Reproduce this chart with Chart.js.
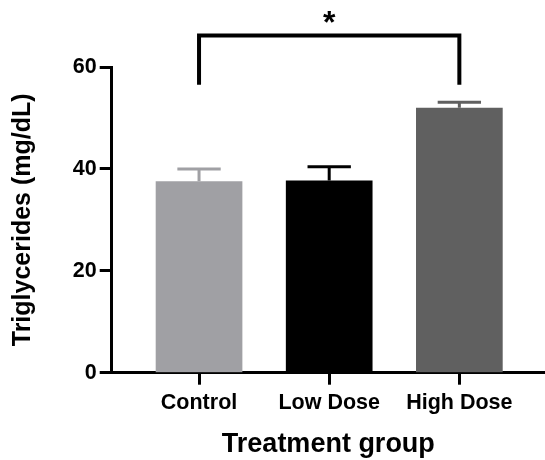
<!DOCTYPE html>
<html>
<head>
<meta charset="utf-8">
<title>Triglycerides by treatment group</title>
<script src="https://cdn.jsdelivr.net/npm/chart.js@4/dist/chart.umd.min.js"></script>
<style>
  html, body { margin: 0; padding: 0; background: #ffffff; }
  #wrap { width: 545px; height: 460px; }
</style>
</head>
<body>
<div id="wrap"><canvas id="chart" width="545" height="460"></canvas></div>
<script>
// Group names, mean values and SEM (mg/dL)
const categories = ['Control', 'Low Dose', 'High Dose'];
const means = [37.6, 37.7, 52.0];
const sem = [2.4, 2.7, 1.1];
const barColors = ['#A0A0A4', '#000000', '#606060'];
const yTicks = [0, 20, 40, 60];

// Significance bracket between two groups
const sigFrom = 'Control';
const sigTo = 'High Dose';
const sigTop = 66.2;
const sigDrop = 56.5;
const sigLabel = '*';

const FONT = '"Liberation Sans", Arial, Helvetica, sans-serif';

const positions = categories.map((_, i) => i + 1);
const points = positions.map((x, i) => ({ x: x, y: means[i] }));

// Upward-only SEM whiskers, drawn in each bar's own colour
const errorBars = {
  id: 'errorBars',
  afterDatasetsDraw(chart) {
    const ctx = chart.ctx;
    const y = chart.scales.y;
    const meta = chart.getDatasetMeta(0);
    ctx.save();
    ctx.lineWidth = 3;
    ctx.lineCap = 'butt';
    meta.data.forEach((bar, i) => {
      const top = y.getPixelForValue(means[i] + sem[i]);
      const half = bar.width / 4;
      ctx.strokeStyle = barColors[i];
      ctx.beginPath();
      ctx.moveTo(bar.x, bar.y);
      ctx.lineTo(bar.x, top);
      ctx.moveTo(bar.x - half, top);
      ctx.lineTo(bar.x + half, top);
      ctx.stroke();
    });
    ctx.restore();
  }
};

// Bracket with significance marker
const sigBracket = {
  id: 'sigBracket',
  afterDraw(chart) {
    const ctx = chart.ctx;
    const xs = chart.scales.x;
    const ys = chart.scales.y;
    const x1 = xs.getPixelForValue(categories.indexOf(sigFrom) + 1);
    const x2 = xs.getPixelForValue(categories.indexOf(sigTo) + 1);
    const yTop = ys.getPixelForValue(sigTop);
    const yDrop = ys.getPixelForValue(sigDrop);
    ctx.save();
    ctx.strokeStyle = '#000000';
    ctx.lineWidth = 4;
    ctx.lineJoin = 'miter';
    ctx.lineCap = 'butt';
    ctx.beginPath();
    ctx.moveTo(x1, yDrop);
    ctx.lineTo(x1, yTop);
    ctx.lineTo(x2, yTop);
    ctx.lineTo(x2, yDrop);
    ctx.stroke();
    ctx.fillStyle = '#000000';
    ctx.font = 'bold 32px ' + FONT;
    ctx.textAlign = 'center';
    ctx.textBaseline = 'alphabetic';
    ctx.fillText(sigLabel, (x1 + x2) / 2, yTop - 2);
    ctx.restore();
  }
};

new Chart(document.getElementById('chart'), {
  type: 'bar',
  data: {
    datasets: [{
      data: points,
      backgroundColor: barColors,
      borderWidth: 0,
      barPercentage: 0.666,
      categoryPercentage: 1
    }]
  },
  options: {
    responsive: false,
    devicePixelRatio: 1,
    animation: false,
    events: [],
    layout: { padding: { top: 67, right: 0, bottom: 0, left: 0 } },
    plugins: { legend: { display: false }, tooltip: { enabled: false } },
    scales: {
      x: {
        type: 'linear',
        offset: false,
        min: 0.329,
        max: 3.658,
        afterBuildTicks(scale) { scale.ticks = positions.map(v => ({ value: v })); },
        afterFit(scale) { scale.height = 87.3; },
        grid: {
          display: true, offset: false, drawOnChartArea: false, drawTicks: true,
          tickLength: 12, tickWidth: 3, tickColor: '#000000'
        },
        border: { display: true, color: '#000000', width: 3 },
        ticks: {
          autoSkip: false, maxRotation: 0, padding: 5, color: '#000000',
          font: { family: FONT, size: 21.5, weight: 'bold' },
          callback: (v) => categories[v - 1]
        },
        title: {
          display: true, text: 'Treatment group', color: '#000000',
          font: { family: FONT, size: 27, weight: 'bold' },
          padding: { top: 0, bottom: -1 }
        }
      },
      y: {
        min: 0,
        max: 60,
        afterBuildTicks(scale) { scale.ticks = yTicks.map(v => ({ value: v })); },
        afterFit(scale) { scale.width = 111.7; },
        grid: {
          display: true, drawOnChartArea: false, drawTicks: true,
          tickLength: 12, tickWidth: 3, tickColor: '#000000'
        },
        border: { display: true, color: '#000000', width: 3 },
        ticks: {
          padding: 3, color: '#000000',
          font: { family: FONT, size: 21.5, weight: 'bold' }
        },
        title: {
          display: true, text: 'Triglycerides (mg/dL)', color: '#000000',
          font: { family: FONT, size: 25, weight: 'bold' },
          padding: { top: 8, bottom: 0 }
        }
      }
    }
  },
  plugins: [errorBars, sigBracket]
});
</script>
</body>
</html>
